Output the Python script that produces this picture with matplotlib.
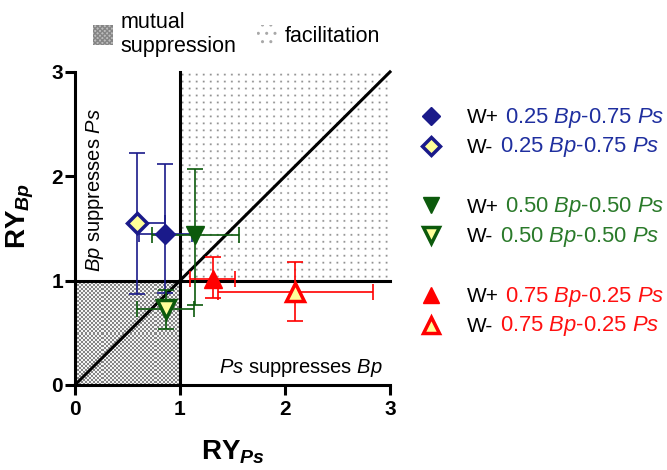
import numpy as np
import matplotlib
matplotlib.use("Agg")
import matplotlib.pyplot as plt
from matplotlib.lines import Line2D
from matplotlib.patches import Patch
from matplotlib.colors import ListedColormap

plt.rcParams['font.family'] = ['Liberation Sans', 'DejaVu Sans']
plt.rcParams['mathtext.fontset'] = 'custom'
plt.rcParams['mathtext.rm'] = 'Liberation Sans'
plt.rcParams['mathtext.it'] = 'Liberation Sans:italic'
plt.rcParams['mathtext.bf'] = 'Liberation Sans:bold'
plt.rcParams['mathtext.bfit'] = 'Liberation Sans:italic:bold'
plt.rcParams['hatch.linewidth'] = 1.0

# data: relative yield of Ps (x) and Bp (y), means with errors
groups = ['0.25 $\\mathit{Bp}$-0.75 $\\mathit{Ps}$',
          '0.50 $\\mathit{Bp}$-0.50 $\\mathit{Ps}$',
          '0.75 $\\mathit{Bp}$-0.25 $\\mathit{Ps}$']
water = ['W+', 'W-']
colors = ['#1a1a8a', '#0c5a0c', '#ff0000']
text_colors = ['#1f2f9f', '#2a7a2a', '#ff1010']
markers = ['D', 'v', '^']
msizes = [10, 13, 13]

# [group][water]
ry_ps = [[0.86, 0.59], [1.14, 0.87], [1.31, 2.10]]
ry_bp = [[1.45, 1.55], [1.44, 0.73], [1.02, 0.89]]
ps_lo = [[0.61, 0.59], [0.73, 0.59], [1.10, 1.36]]
ps_hi = [[1.11, 0.86], [1.56, 1.13], [1.52, 2.84]]
bp_lo = [[0.88, 0.87], [0.77, 0.54], [0.83, 0.61]]
bp_hi = [[2.12, 2.22], [2.07, 0.91], [1.23, 1.18]]

fig = plt.figure(figsize=(6.67, 4.70), dpi=100)
ax = fig.add_axes([0.1124, 0.181, 0.4723, 0.666])

# regions: checkerboard for mutual suppression, dot grid for facilitation
n = 52
checker = np.indices((n, n)).sum(axis=0) % 2
ax.imshow(checker, extent=[0, 1, 0, 1], cmap=ListedColormap(['#f4f4f4', '#858585']),
          interpolation='nearest', aspect='auto', zorder=0)
m = 120
ii, jj = np.indices((m, m))
dots = ((ii % 4 == 1) & (jj % 4 == 1)).astype(float)
ax.imshow(dots, extent=[1, 3, 1, 3], cmap=ListedColormap(['white', '#8c8c8c']),
          interpolation='antialiased', aspect='auto', zorder=0)

ax.plot([1, 1], [0, 3], color='black', lw=2.2, zorder=2, clip_on=False)
ax.plot([0, 3], [1, 1], color='black', lw=2.2, zorder=2, clip_on=False)
ax.plot([0, 3], [0, 3], color='black', lw=2.2, zorder=2, clip_on=False)

for g in range(3):
    for w in range(2):
        x = ry_ps[g][w]
        y = ry_bp[g][w]
        xerr = [[x - ps_lo[g][w]], [ps_hi[g][w] - x]]
        yerr = [[y - bp_lo[g][w]], [bp_hi[g][w] - y]]
        ax.errorbar(x, y, xerr=xerr, yerr=yerr, fmt='none', ecolor=colors[g],
                    elinewidth=1.2, capsize=6, capthick=1.2, zorder=3)
        face = colors[g] if w == 0 else '#ffff99'
        ax.plot(x, y, marker=markers[g], ms=msizes[g], mfc=face,
                mec=colors[g], mew=2.5 if w == 1 else 1, ls='none', zorder=4)

ax.text(0.19, 1.87, '$\\mathit{Bp}$ suppresses $\\mathit{Ps}$', rotation=90,
        ha='center', va='center', fontsize=14.5)
ax.text(2.93, 0.16, '$\\mathit{Ps}$ suppresses $\\mathit{Bp}$',
        ha='right', va='center', fontsize=14.5)

ax.set_xlim(0, 3)
ax.set_ylim(0, 3)
ax.set_xticks([0, 1, 2, 3])
ax.set_yticks([0, 1, 2, 3])
for s in ['top', 'right']:
    ax.spines[s].set_visible(False)
for s in ['left', 'bottom']:
    ax.spines[s].set_linewidth(2.2)
ax.tick_params(width=2.2, length=7.2, labelsize=15)
ax.tick_params(axis='x', pad=4)
ax.tick_params(axis='y', pad=1.5)
for lab in ax.get_xticklabels() + ax.get_yticklabels():
    lab.set_fontweight('bold')
ax.set_xlabel('RY$_{\\mathbfit{Ps}}$', fontsize=20, fontweight='bold')
ax.set_ylabel('RY$_{\\mathbfit{Bp}}$', fontsize=20, fontweight='bold')
ax.xaxis.set_label_coords(0.5, -0.172)
ax.yaxis.set_label_coords(-0.125, 0.54)

# top legend for regions
reg_handles = [Patch(facecolor='#bdbdbd', edgecolor='#858585', hatch='xxxxxxx', lw=0),
               Patch(facecolor='white', edgecolor='#a8a8a8', hatch='..', lw=0)]
fig.legend(reg_handles, ['mutual\nsuppression', 'facilitation'], ncol=2,
           loc='center left', bbox_to_anchor=(0.139, 0.927), frameon=False,
           fontsize=15.5, handlelength=0.95, handleheight=1.05, handletextpad=0.35,
           columnspacing=0.95, borderpad=0, borderaxespad=0)

# right legend for treatments
handles = []
labels = []
for g in range(3):
    for w in range(2):
        face = colors[g] if w == 0 else '#ffff99'
        handles.append(Line2D([], [], marker=markers[g], ms=msizes[g] - 1, mfc=face,
                              mec=colors[g], mew=2.5 if w == 1 else 1, ls='none'))
        labels.append(water[w])
    if g < 2:
        handles.append(Line2D([], [], ls='none'))
        labels.append(' ')
leg = ax.legend(handles, labels, loc='upper left', bbox_to_anchor=(0.6275, 0.77),
                bbox_transform=fig.transFigure, frameon=False, fontsize=15,
                labelspacing=0.52, handlelength=1.2, handletextpad=1.13,
                borderpad=0, borderaxespad=0)
texts = leg.get_texts()
k = 0
for g in range(3):
    for w in range(2):
        ax.annotate(groups[g], xy=(1, 0), xycoords=texts[k], xytext=(4.5, 3.2),
                    textcoords='offset points', ha='left', va='baseline',
                    fontsize=15.8, color=text_colors[g], annotation_clip=False,
                    zorder=6)
        k += 1
    k += 1

fig.savefig('out.png', dpi=100)
